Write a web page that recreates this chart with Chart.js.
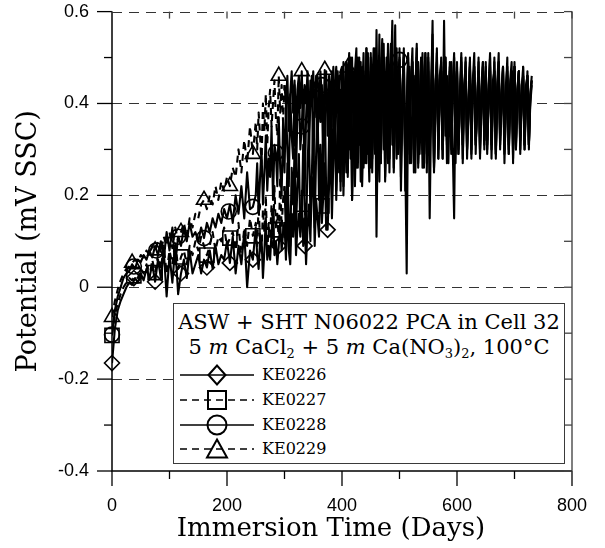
<!DOCTYPE html>
<html><head><meta charset="utf-8">
<script src="https://cdn.jsdelivr.net/npm/chart.js@4"></script>
<style>
html,body{margin:0;padding:0;background:#fff;}
#wrap{position:relative;width:605px;height:548px;}
canvas{position:absolute;left:0;top:0;}
#legend{position:absolute;left:173px;top:303px;width:392px;height:161px;box-sizing:border-box;border:1px solid #3a3a3a;background:#fff;font-family:"DejaVu Serif",serif;color:#000;}
.t{position:absolute;left:0;width:100%;text-align:center;white-space:nowrap;font-size:21px;line-height:24px;}
.row{position:absolute;left:0;height:24px;width:100%;}
.row svg{position:absolute;left:6px;top:0;}
.row span{position:absolute;left:88px;top:0;font-size:16px;line-height:24px;}
sub{font-size:13px;vertical-align:-4px;line-height:0;}
</style></head><body>
<div id="wrap"><canvas id="c" width="605" height="548"></canvas>
<div id="legend">
  <div class="t" style="top:6px">ASW + SHT N06022 PCA in Cell 32</div>
  <div class="t" style="top:31px">5 <i>m</i> CaCl<sub>2</sub> + 5 <i>m</i> Ca(NO<sub>3</sub>)<sub>2</sub>, 100°C</div>
  <div class="row" style="top:59px"><svg width="74" height="24"><line x1="0" y1="12" x2="74" y2="12" stroke="#000" stroke-width="1.5"/><polygon points="28.5,12 37,2.5 45.5,12 37,21.5" fill="none" stroke="#000" stroke-width="2"/></svg><span>KE0226</span></div>
  <div class="row" style="top:84px"><svg width="74" height="24"><line x1="0" y1="12" x2="74" y2="12" stroke="#000" stroke-width="1.5" stroke-dasharray="7,5"/><rect x="28" y="3" width="18" height="18" fill="none" stroke="#000" stroke-width="2"/></svg><span>KE0227</span></div>
  <div class="row" style="top:109px"><svg width="74" height="24"><line x1="0" y1="12" x2="74" y2="12" stroke="#000" stroke-width="1.5"/><circle cx="37" cy="12" r="9.5" fill="none" stroke="#000" stroke-width="2"/></svg><span>KE0228</span></div>
  <div class="row" style="top:133px"><svg width="74" height="24"><line x1="0" y1="12" x2="74" y2="12" stroke="#000" stroke-width="1.5" stroke-dasharray="7,5"/><polygon points="37,2.5 47,20.5 27,20.5" fill="none" stroke="#000" stroke-width="2"/></svg><span>KE0229</span></div>
</div>
</div>
<script>
// ---- data: immersion time (days) and potential ----
const days = [0,5,10,15,20,25,30,35,40,45,50,55,60,65,70,75,80,85,90,95,
100,105,110,115,120,125,130,135,140,145,150,155,160,165,170,175,180,185,190,195,
200,205,210,215,220,225,230,235,240,245,
250,252.5,255,257.5,260,262.5,265,267.5,270,272.5,
275,277.5,280,282.5,285,287.5,290,292.5,295,297.5,
300,302.5,305,307.5,310,312.5,315,317.5,320,322.5,
325,327.5,330,332.5,335,337.5,340,342.5,345,347.5,
350,352.5,355,357.5,360,362.5,365,367.5,370,372.5,
375,377.5,380,382.5,385,387.5,390,392.5,395,397.5,
400,402.5,405,407.5,410,412.5,415,417.5,420,422.5,
425,427.5,430,432.5,435,437.5,440,442.5,445,447.5,
450,452.5,455,457.5,460,462.5,465,467.5,470,472.5,
475,477.5,480,482.5,485,487.5,490,492.5,495,497.5,
500,502.5,505,507.5,510,512.5,515,517.5,520,522.5,
525,527.5,530,532.5,535,537.5,540,542.5,545,547.5,
550,552.5,555,557.5,560,562.5,565,567.5,570,572.5,
575,577.5,580,582.5,585,587.5,590,592.5,595,597.5,
600,602.5,605,607.5,610,612.5,615,617.5,620,622.5,
625,627.5,630,632.5,635,637.5,640,642.5,645,647.5,
650,652.5,655,657.5,660,662.5,665,667.5,670,672.5,
675,677.5,680,682.5,685,687.5,690,692.5,695,697.5,
700,702.5,705,707.5,710,712.5,715,717.5,720,722.5,
725,727.5,730];

const ke0226 = [-0.165,-0.09,-0.05,-0.03,-0.015,0.0,0.01,0.005,0.02,0.01,
0.03,0.015,0.04,0.02,0.05,0.012,0.06,0.02,0.08,-0.02,
0.07,0.01,0.09,-0.015,0.03,0.06,0.02,0.08,0.03,0.05,
0.07,0.03,0.06,0.043,0.08,0.04,0.09,0.05,0.07,0.06,
0.10,0.053,0.11,0.03,0.09,0.05,0.12,0.00,0.08,0.06,
0.13,0.07,0.04,0.10,0.11,0.02,0.08,0.15,0.06,0.09,
0.06,0.12,0.17,0.07,0.10,0.05,0.09,0.14,0.08,0.12,
0.14,0.06,0.19,0.08,0.05,0.16,0.11,0.21,0.07,0.13,
0.16,0.11,0.21,0.09,0.15,0.05,0.13,0.18,0.10,0.22,
0.24,0.09,0.19,0.15,0.11,0.26,0.14,0.20,0.27,0.125,
0.125,0.22,0.31,0.15,0.28,0.36,0.19,0.33,0.40,0.21,
0.43,0.22,0.38,0.46,0.25,0.41,0.48,0.19,0.35,0.45,
0.26,0.42,0.50,0.23,0.31,0.47,0.28,0.52,0.36,0.23,
0.47,0.28,0.40,0.49,0.11,0.38,0.46,0.27,0.43,0.50,
0.24,0.36,0.48,0.30,0.44,0.58,0.26,0.41,0.49,0.30,
0.47,0.21,0.39,0.45,0.28,0.03,0.42,0.48,0.27,0.37,
0.46,0.25,0.43,0.49,0.29,0.40,0.51,0.26,0.44,0.29,
0.47,0.15,0.38,0.50,0.26,0.45,0.49,0.28,0.41,0.47,
0.30,0.58,0.33,0.46,0.27,0.42,0.49,0.31,0.15,0.44,
0.47,0.29,0.40,0.49,0.31,0.43,0.46,0.28,0.39,0.48,
0.30,0.44,0.47,0.32,0.38,0.49,0.29,0.42,0.47,0.32,
0.46,0.29,0.41,0.48,0.31,0.45,0.47,0.28,0.40,0.49,
0.30,0.43,0.48,0.27,0.39,0.46,0.30,0.44,0.47,0.27,
0.48,0.30,0.41,0.47,0.32,0.44,0.46,0.30,0.39,0.47,
0.30,0.42,0.45];

const ke0227 = [-0.105,-0.06,-0.035,-0.015,0.0,0.01,0.02,0.015,0.025,0.02,
0.04,0.03,0.05,0.02,0.06,0.032,0.07,0.04,0.09,0.03,
0.08,0.05,0.10,0.04,0.066,0.08,0.05,0.09,0.07,0.10,
0.08,0.11,0.09,0.07,0.09,0.12,0.08,0.11,0.10,0.13,
0.09,0.107,0.12,0.08,0.14,0.06,0.13,0.09,0.15,0.112,
0.14,0.09,0.18,0.10,0.07,0.17,0.12,0.20,0.08,0.13,
0.11,0.18,0.09,0.22,0.125,0.16,0.10,0.24,0.13,0.19,
0.22,0.12,0.27,0.15,0.09,0.26,0.18,0.30,0.13,0.22,
0.29,0.12,0.15,0.31,0.18,0.11,0.27,0.34,0.16,0.24,
0.38,0.13,0.29,0.40,0.19,0.31,0.177,0.36,0.42,0.20,
0.16,0.33,0.44,0.19,0.37,0.45,0.21,0.30,0.46,0.23,
0.47,0.20,0.36,0.49,0.24,0.41,0.50,0.19,0.33,0.47,
0.52,0.26,0.40,0.49,0.22,0.35,0.46,0.27,0.51,0.30,
0.51,0.25,0.39,0.48,0.20,0.33,0.55,0.27,0.44,0.50,
0.23,0.38,0.53,0.28,0.42,0.49,0.25,0.36,0.47,0.29,
0.50,0.24,0.43,0.51,0.26,0.38,0.49,0.29,0.45,0.52,
0.25,0.40,0.50,0.27,0.36,0.48,0.30,0.44,0.51,0.27,
0.51,0.30,0.42,0.58,0.26,0.39,0.52,0.28,0.45,0.48,
0.30,0.41,0.50,0.27,0.37,0.49,0.31,0.43,0.47,0.29,
0.49,0.31,0.40,0.47,0.28,0.42,0.50,0.30,0.38,0.48,
0.32,0.45,0.51,0.29,0.41,0.47,0.31,0.39,0.49,0.30,
0.47,0.31,0.43,0.50,0.28,0.40,0.49,0.30,0.44,0.51,
0.32,0.41,0.48,0.29,0.38,0.47,0.31,0.45,0.49,0.28,
0.49,0.31,0.42,0.47,0.29,0.40,0.48,0.30,0.43,0.46,
0.31,0.41,0.45];

const ke0228 = [-0.103,-0.05,-0.02,0.0,0.02,0.03,0.035,0.05,0.04,0.06,
0.055,0.07,0.06,0.08,0.065,0.09,0.07,0.10,0.06,0.12,
0.08,0.13,0.05,0.11,0.09,0.13,0.10,0.14,0.11,0.12,
0.10,0.13,0.107,0.14,0.12,0.15,0.13,0.16,0.14,0.17,
0.15,0.18,0.14,0.20,0.16,0.22,0.15,0.25,0.17,0.175,
0.20,0.27,0.16,0.24,0.30,0.18,0.25,0.33,0.21,0.28,
0.24,0.35,0.19,0.31,0.293,0.22,0.37,0.26,0.20,0.36,
0.25,0.40,0.30,0.22,0.42,0.33,0.28,0.44,0.24,0.38,
0.45,0.30,0.35,0.43,0.20,0.37,0.45,0.29,0.41,0.46,
0.26,0.39,0.46,0.31,0.44,0.36,0.44,0.24,0.40,0.47,
0.33,0.45,0.27,0.42,0.48,0.30,0.39,0.47,0.25,0.43,
0.30,0.49,0.37,0.25,0.45,0.51,0.28,0.41,0.47,0.22,
0.38,0.50,0.31,0.44,0.48,0.26,0.40,0.52,0.29,0.45,
0.26,0.43,0.52,0.29,0.56,0.34,0.23,0.47,0.54,0.30,
0.41,0.50,0.27,0.45,0.53,0.31,0.39,0.57,0.28,0.46,
0.495,0.28,0.42,0.52,0.21,0.37,0.50,0.27,0.45,0.49,
0.30,0.41,0.53,0.26,0.39,0.50,0.29,0.44,0.51,0.25,
0.50,0.29,0.43,0.55,0.25,0.40,0.51,0.32,0.46,0.49,
0.28,0.42,0.50,0.31,0.38,0.47,0.30,0.44,0.51,0.27,
0.47,0.30,0.41,0.51,0.27,0.43,0.49,0.33,0.40,0.50,
0.29,0.44,0.48,0.31,0.39,0.50,0.28,0.42,0.48,0.32,
0.48,0.32,0.44,0.51,0.30,0.41,0.47,0.29,0.43,0.49,
0.33,0.40,0.48,0.30,0.42,0.50,0.29,0.39,0.47,0.33,
0.48,0.30,0.43,0.47,0.33,0.41,0.48,0.31,0.44,0.46,
0.31,0.42,0.46];

const ke0229 = [-0.065,-0.03,-0.005,0.015,0.03,0.04,0.045,0.053,0.06,0.055,
0.07,0.065,0.08,0.07,0.09,0.08,0.10,0.075,0.11,0.09,
0.12,0.085,0.13,0.10,0.12,0.14,0.11,0.15,0.13,0.16,
0.15,0.18,0.19,0.17,0.20,0.18,0.22,0.19,0.23,0.21,
0.24,0.22,0.26,0.24,0.30,0.25,0.32,0.27,0.35,0.29,
0.36,0.30,0.38,0.33,0.27,0.40,0.34,0.42,0.31,0.39,
0.43,0.35,0.40,0.45,0.37,0.33,0.46,0.38,0.44,0.36,
0.44,0.40,0.46,0.34,0.42,0.47,0.38,0.45,0.35,0.43,
0.46,0.39,0.47,0.36,0.44,0.40,0.47,0.34,0.45,0.41,
0.47,0.37,0.44,0.46,0.39,0.47,0.41,0.36,0.473,0.42,
0.38,0.46,0.40,0.47,0.35,0.44,0.48,0.38,0.43,0.47,
0.48,0.34,0.42,0.49,0.478,0.30,0.45,0.50,0.33,0.44,
0.28,0.46,0.49,0.32,0.41,0.51,0.27,0.43,0.50,0.31,
0.50,0.30,0.44,0.52,0.26,0.41,0.50,0.31,0.47,0.53,
0.28,0.40,0.51,0.25,0.44,0.49,0.31,0.46,0.52,0.29,
0.52,0.29,0.42,0.50,0.24,0.39,0.51,0.30,0.45,0.49,
0.27,0.43,0.52,0.29,0.40,0.49,0.26,0.44,0.50,0.31,
0.49,0.31,0.42,0.51,0.27,0.44,0.48,0.30,0.41,0.50,
0.28,0.43,0.49,0.32,0.39,0.48,0.29,0.42,0.50,0.32,
0.48,0.29,0.41,0.50,0.31,0.44,0.47,0.30,0.40,0.49,
0.28,0.43,0.48,0.31,0.39,0.47,0.30,0.44,0.49,0.31,
0.49,0.30,0.42,0.47,0.32,0.40,0.50,0.29,0.43,0.48,
0.31,0.41,0.47,0.30,0.44,0.48,0.29,0.40,0.47,0.30,
0.48,0.32,0.43,0.47,0.30,0.41,0.46,0.31,0.42,0.46,
0.31,0.40,0.44];

// marker symbols (sparse, on top of each curve)
const mk0226Days = [0,38,75,120,165,205,245,290,335,375];
const mk0226Vals = [-0.165,0.02,0.012,0.03,0.043,0.053,0.06,0.09,0.09,0.125];
const mk0227Days = [0,38,75,120,165,205,245,285,330,365];
const mk0227Vals = [-0.105,0.025,0.032,0.066,0.07,0.107,0.112,0.125,0.15,0.177];
const mk0228Days = [0,38,77,115,160,203,245,285,330,365,500];
const mk0228Vals = [-0.103,0.045,0.08,0.11,0.107,0.165,0.175,0.293,0.35,0.44,0.495];
const mk0229Days = [0,35,75,120,160,205,245,290,330,370,410];
const mk0229Vals = [-0.065,0.053,0.08,0.12,0.19,0.22,0.29,0.46,0.47,0.473,0.478];

const xTickValues = [0,200,400,600,800];
const xMinorValues = [100,300,500,700];
const yTickValues = [-0.4,-0.2,0,0.2,0.4,0.6];
const yMinorValues = [-0.3,-0.1,0.1,0.3,0.5];
const yGridValues = [-0.2,0,0.2,0.4,0.6];
const xTitle = 'Immersion Time (Days)';
const yTitle = 'Potential (mV SSC)';

const pts = (xs, ys) => xs.map((d, i) => ({x: d, y: ys[i]}));

function lineSet(label, vals, dashed) {
  const ds = {label, data: pts(days, vals), showLine: true, pointRadius: 0, pointHoverRadius: 0,
    borderColor: '#000', borderWidth: 2.1, borderDash: dashed ? [7,5] : [], borderJoinStyle: 'round',
    tension: 0, fill: false, order: 2};
  if (dashed) {
    ds.segment = {borderDash: c => (c.p0.parsed.x >= 300 ? [] : [7,5])};
  }
  return ds;
}
function markSet(label, xs, ys, style, r) {
  return {label, data: pts(xs, ys), showLine: false, pointStyle: style, pointRadius: r, pointHoverRadius: r,
    pointBorderWidth: 1.6, pointBorderColor: '#000', pointBackgroundColor: 'rgba(0,0,0,0)', order: 1, clip: false};
}

const frame = {
  id: 'frame',
  beforeDatasetsDraw(chart) {
    const {ctx, chartArea: a, scales: {x, y}} = chart;
    ctx.save();
    ctx.strokeStyle = '#333'; ctx.lineWidth = 1.2; ctx.setLineDash([10, 7]);
    yGridValues.forEach(v => {
      const py = Math.round(y.getPixelForValue(v)) + 0.5;
      ctx.beginPath(); ctx.moveTo(a.left, py); ctx.lineTo(a.right, py); ctx.stroke();
    });
    ctx.restore();
  },
  afterDatasetsDraw(chart) {
    const {ctx, chartArea: a, scales: {x, y}} = chart;
    ctx.save();
    ctx.setLineDash([]);
    ctx.strokeStyle = '#555'; ctx.lineWidth = 1.5;
    ctx.beginPath(); ctx.moveTo(a.right, a.top); ctx.lineTo(a.right, a.bottom); ctx.stroke();
    ctx.strokeStyle = '#000'; ctx.lineWidth = 1.5;
    ctx.beginPath(); ctx.moveTo(a.left, a.top); ctx.lineTo(a.left, a.bottom); ctx.lineTo(a.right, a.bottom); ctx.stroke();
    ctx.lineWidth = 1.3;
    yTickValues.forEach(v => { const py = y.getPixelForValue(v); ctx.beginPath(); ctx.moveTo(a.left - 15, py); ctx.lineTo(a.left, py); ctx.stroke(); });
    yMinorValues.forEach(v => { const py = y.getPixelForValue(v); ctx.beginPath(); ctx.moveTo(a.left - 8, py); ctx.lineTo(a.left, py); ctx.stroke(); });
    xTickValues.forEach(v => { const px = x.getPixelForValue(v); ctx.beginPath(); ctx.moveTo(px, a.bottom); ctx.lineTo(px, a.bottom + 15); ctx.stroke(); });
    xMinorValues.forEach(v => { const px = x.getPixelForValue(v); ctx.beginPath(); ctx.moveTo(px, a.bottom); ctx.lineTo(px, a.bottom + 8); ctx.stroke(); });
    ctx.strokeStyle = '#444';
    xTickValues.concat(xMinorValues).forEach(v => { const px = x.getPixelForValue(v); ctx.beginPath(); ctx.moveTo(px, a.top); ctx.lineTo(px, a.top + 7); ctx.stroke(); });
    yTickValues.concat(yMinorValues).forEach(v => { const py = y.getPixelForValue(v); ctx.beginPath(); ctx.moveTo(a.right - 8, py); ctx.lineTo(a.right, py); ctx.stroke(); });
    ctx.fillStyle = '#000';
    ctx.font = '26px "DejaVu Serif"';
    ctx.textAlign = 'center'; ctx.textBaseline = 'middle';
    ctx.fillText(xTitle, 331, 529);
    ctx.restore();
  }
};

new Chart(document.getElementById('c'), {
  type: 'scatter',
  data: {datasets: [
    markSet('KE0226 markers', mk0226Days, mk0226Vals, 'rectRot', 7.5),
    markSet('KE0227 markers', mk0227Days, mk0227Vals, 'rect', 10),
    markSet('KE0228 markers', mk0228Days, mk0228Vals, 'circle', 7.5),
    markSet('KE0229 markers', mk0229Days, mk0229Vals, 'triangle', 8.7),
    lineSet('KE0226', ke0226, false),
    lineSet('KE0227', ke0227, true),
    lineSet('KE0228', ke0228, false),
    lineSet('KE0229', ke0229, true)
  ]},
  options: {
    responsive: false, animation: false, devicePixelRatio: 1,
    layout: {padding: {top: 11, right: 33, left: 0, bottom: 0}},
    plugins: {legend: {display: false}, tooltip: {enabled: false}},
    events: [],
    scales: {
      x: {type: 'linear', min: 0, max: 800,
        afterFit(s) { s.height = 77; s.paddingLeft = 0; s.paddingRight = 0; s.paddingTop = 0; s.paddingBottom = 0; },
        grid: {display: false, drawTicks: false}, border: {display: false},
        ticks: {stepSize: 200, padding: 24, maxRotation: 0, autoSkip: false, color: '#000',
          font: {family: 'Liberation Sans', size: 18}},
        title: {display: false}},
      y: {type: 'linear', min: -0.4, max: 0.6,
        afterFit(s) { s.width = 112; s.paddingTop = 0; s.paddingBottom = 0; s.paddingLeft = 0; s.paddingRight = 0; },
        grid: {display: false, drawTicks: false}, border: {display: false},
        ticks: {stepSize: 0.2, padding: 23, color: '#000', font: {family: 'Liberation Sans', size: 18},
          callback: v => { const r = Math.round(v * 10) / 10; return r === 0 ? '0' : String(r); }},
        title: {display: true, text: yTitle, color: '#000',
          font: {family: 'DejaVu Serif', size: 27, lineHeight: 1.2}, padding: {top: 13, bottom: 0}}}
    }
  },
  plugins: [frame]
});
</script>
</body></html>
